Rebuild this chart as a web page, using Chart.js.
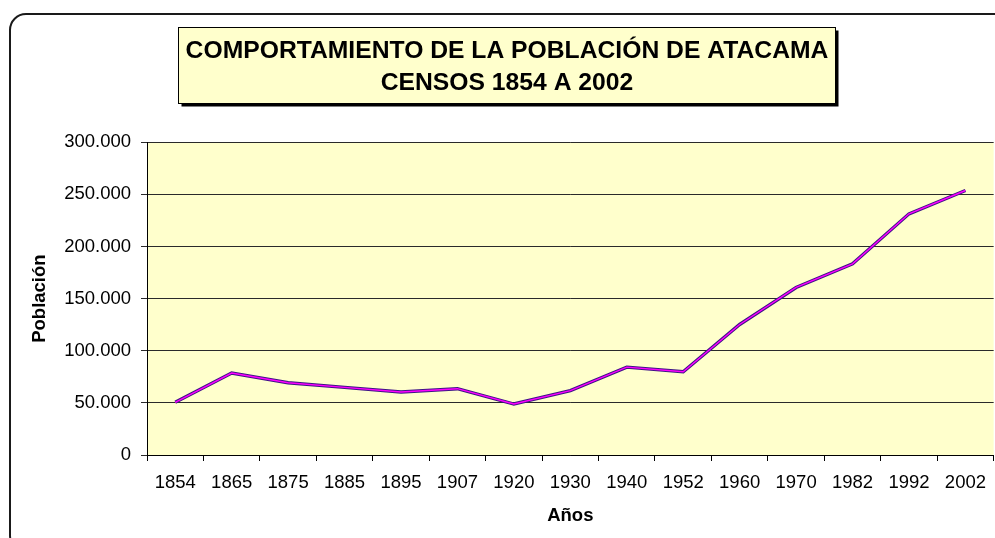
<!DOCTYPE html>
<html>
<head>
<meta charset="utf-8">
<script src="https://cdn.jsdelivr.net/npm/chart.js@4/dist/chart.umd.min.js"></script>
<style>
  html, body { margin: 0; padding: 0; background: #ffffff; overflow: hidden; width: 995px; height: 538px; }
  #frame { position: absolute; left: 9px; top: 13px; width: 1010px; height: 540px; border: 2px solid #1a1a1a; border-radius: 17px; box-sizing: border-box; }
  #wrap { position: absolute; left: 0; top: 0; width: 997px; height: 538px; }
</style>
</head>
<body>
<div id="frame"></div>
<div id="wrap"><canvas id="c" width="997" height="538"></canvas></div>
<script>
// ---- data ----
const years = ['1854', '1865', '1875', '1885', '1895', '1907', '1920', '1930', '1940', '1952', '1960', '1970', '1982', '1992', '2002'];
const poblacion = [50500, 78600, 69300, 64900, 60400, 63600, 48900, 61800, 84300, 79900, 125200, 160700, 183400, 231300, 253700];
const titleLines = ['COMPORTAMIENTO DE LA POBLACIÓN DE ATACAMA', 'CENSOS 1854 A 2002'];
const yAxisTitle = 'Población';
const xAxisTitle = 'Años';

const FONT = "'Liberation Sans', Arial, sans-serif";
const fmt = v => String(Math.round(v)).replace(/\B(?=(\d{3})+(?!\d))/g, '.');

const bgPlugin = {
  id: 'bgPlugin',
  beforeDraw(chart) {
    const ctx = chart.ctx;
    const a = chart.chartArea;
    ctx.save();
    // plot area fill
    ctx.fillStyle = '#FFFFCC';
    ctx.fillRect(a.left, a.top, a.right - a.left, a.bottom - a.top);
    // title box with shadow
    const tb = chart.titleBlock;
    const tf = tb.options.font;
    ctx.font = 'bold ' + tf.size + 'px ' + FONT;
    const w = ctx.measureText(titleLines[0]).width;
    const cx = (tb.left + tb.right) / 2;
    const x0 = Math.round(cx - w / 2 - 8) + 0.5;
    const x1 = Math.round(cx + w / 2 + 7) + 0.5;
    const y0 = 27.5, y1 = 103.5;
    ctx.fillStyle = '#000';
    ctx.fillRect(x0 + 3, y0 + 3, x1 - x0, y1 - y0);
    ctx.fillStyle = '#FFFFCC';
    ctx.fillRect(x0, y0, x1 - x0, y1 - y0);
    ctx.strokeStyle = '#000';
    ctx.lineWidth = 1;
    ctx.strokeRect(x0, y0, x1 - x0, y1 - y0);
    ctx.restore();
  }
};

Chart.defaults.color = '#000';
Chart.defaults.font.family = FONT;

new Chart(document.getElementById('c'), {
  type: 'line',
  data: {
    labels: years,
    datasets: [
      { label: 'Población', data: poblacion, borderColor: '#FF00FF', borderWidth: 1.4, pointRadius: 0, tension: 0, fill: false, order: 0 },
      { label: 'Población (borde)', data: poblacion, borderColor: '#3d1585', borderWidth: 3.4, pointRadius: 0, tension: 0, fill: false, order: 1 }
    ]
  },
  options: {
    responsive: false,
    animation: false,
    layout: { padding: { left: 17, right: 0, top: 0, bottom: 0 } },
    plugins: {
      legend: { display: false },
      tooltip: { enabled: false },
      title: {
        display: true,
        text: titleLines,
        color: '#000',
        font: { family: FONT, size: 24.7, weight: 'bold', lineHeight: 1.3 },
        padding: { top: 35.5, bottom: 42.5 }
      }
    },
    scales: {
      x: {
        type: 'category',
        offset: true,
        grid: { display: true, drawOnChartArea: false, drawTicks: true, tickLength: 6, offset: true, color: '#000', lineWidth: 1 },
        border: { display: true, color: '#000', width: 1 },
        ticks: { font: { family: FONT, size: 18.5 }, color: '#000', padding: 11, maxRotation: 0, autoSkip: false },
        title: { display: true, text: xAxisTitle, color: '#000', font: { family: FONT, size: 18.5, weight: 'bold', lineHeight: 1.2 }, padding: { top: 0, bottom: 11 } },
        afterFit(scale) { scale.height = 83; }
      },
      y: {
        min: 0,
        max: 300000,
        grid: { color: '#2a2a2a', lineWidth: 1, drawTicks: true, tickLength: 6 },
        border: { display: true, color: '#000', width: 1 },
        ticks: { stepSize: 50000, font: { family: FONT, size: 18.5 }, color: '#000', padding: 10, callback: v => fmt(v) },
        title: { display: true, text: yAxisTitle, color: '#000', font: { family: FONT, size: 18.5, weight: 'bold', lineHeight: 1.2 }, padding: { top: 12, bottom: 0 } },
        afterFit(scale) { scale.width = 130; }
      }
    }
  },
  plugins: [bgPlugin]
});
</script>
</body>
</html>
